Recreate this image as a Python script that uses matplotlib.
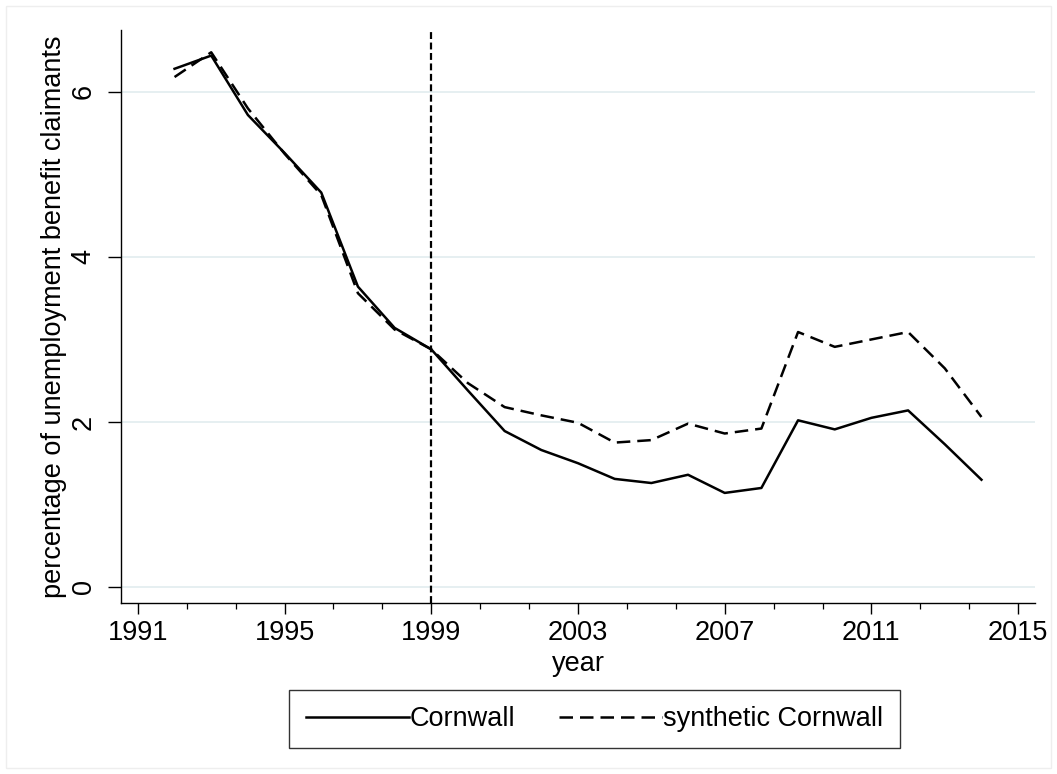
import numpy as np
import matplotlib
matplotlib.use("Agg")
import matplotlib.pyplot as plt
from matplotlib.ticker import FixedLocator
from matplotlib.patches import Rectangle

plt.rcParams['font.family'] = ['Liberation Sans', 'DejaVu Sans']

# data
years = list(range(1992, 2015))
cornwall = [6.28, 6.44, 5.72, 5.26, 4.78, 3.64, 3.14, 2.88, 2.38, 1.89, 1.66, 1.50,
            1.31, 1.26, 1.36, 1.14, 1.20, 2.02, 1.91, 2.05, 2.14, 1.73, 1.30]
synthetic = [6.18, 6.48, 5.80, 5.25, 4.75, 3.56, 3.12, 2.88, 2.47, 2.18, 2.08, 1.99,
             1.75, 1.78, 1.98, 1.86, 1.92, 3.09, 2.91, 3.00, 3.09, 2.65, 2.06]
treat_year = 1999
x_ticks = [1991, 1995, 1999, 2003, 2007, 2011, 2015]
y_ticks = [0, 2, 4, 6]

fs = 19.5
W, H = 1057, 774
fig = plt.figure(figsize=(W / 100, H / 100), dpi=100)
ax = fig.add_axes([121 / W, 1 - 603 / H, (1035 - 121) / W, (603 - 30) / H])

# faint frame round the graph region
fig.patches.append(Rectangle((6 / W, 6 / H), 1 - 12 / W, 1 - 12 / H, transform=fig.transFigure,
                             fill=False, edgecolor='#EEEEEE', lw=1.0))

for yv in y_ticks:
    ax.axhline(yv, color='#E6EFF1', lw=1.4, zorder=0)

ax.plot(years, cornwall, color='black', lw=1.8, label='Cornwall')
ax.plot(years, synthetic, color='black', lw=1.8, linestyle=(0, (5.4, 2.8)), label='synthetic Cornwall')
ax.axvline(treat_year, color='black', lw=1.6, linestyle=(0, (3.1, 1.6)))

ax.set_xlim(1990.54, 2015.46)
ax.set_ylim(-0.194, 6.75)

ax.set_xticks(x_ticks)
minors = [v for v in np.arange(1991, 2015.01, 4 / 3) if min(abs(v - t) for t in x_ticks) > 0.1]
ax.xaxis.set_minor_locator(FixedLocator(minors))
ax.set_yticks(y_ticks)

for s in ['top', 'right']:
    ax.spines[s].set_visible(False)
for s in ['left', 'bottom']:
    ax.spines[s].set_linewidth(1.0)

ax.tick_params(axis='x', which='major', length=8, width=1.0, labelsize=fs, pad=4.5)
ax.tick_params(axis='y', which='major', length=9.5, width=1.0, labelsize=fs, pad=8, labelrotation=90)
ax.tick_params(axis='x', which='minor', length=4, width=0.9)
for lab in ax.get_yticklabels():
    lab.set_va('center')

ax.set_xlabel('year', fontsize=fs, labelpad=3)
ax.set_ylabel('percentage of unemployment benefit claimants', fontsize=fs, labelpad=3)

leg = fig.legend(*ax.get_legend_handles_labels(), loc='center', ncol=2,
                 bbox_to_anchor=(594.5 / W, 1 - 719 / H), fontsize=fs, frameon=True,
                 fancybox=False, edgecolor='black', handlelength=3.8, handletextpad=0.05,
                 columnspacing=1.6, borderpad=0.6, borderaxespad=0)
leg.get_frame().set_linewidth(1.0)

fig.savefig('out.png', dpi=100, facecolor='white')
